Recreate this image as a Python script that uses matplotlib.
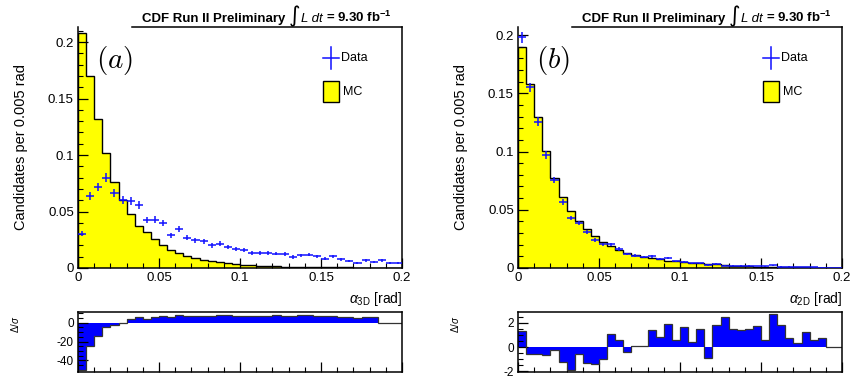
import numpy as np
import matplotlib.pyplot as plt
from matplotlib.ticker import MultipleLocator
from matplotlib.patches import Rectangle
from matplotlib.lines import Line2D
from matplotlib.offsetbox import TextArea, HPacker, AnchoredOffsetbox

plt.rcParams['font.family'] = ['Liberation Sans', 'DejaVu Sans']
plt.rcParams['mathtext.fontset'] = 'custom'
plt.rcParams['mathtext.rm'] = 'Liberation Sans'
plt.rcParams['mathtext.it'] = 'Liberation Sans:italic'
plt.rcParams['mathtext.bf'] = 'Liberation Sans:bold'

# 40 bins of 0.005 rad between 0 and 0.2
edges = np.linspace(0.0, 0.2, 41)
centers = 0.5 * (edges[1:] + edges[:-1])

# (a) alpha_3D
mc_3d = [0.208, 0.170, 0.132, 0.102, 0.076, 0.060, 0.048, 0.037, 0.032, 0.026,
         0.020, 0.016, 0.013, 0.011, 0.009, 0.0074, 0.006, 0.005, 0.0041, 0.0035,
         0.003, 0.0024, 0.002, 0.0018, 0.0015, 0.0013, 0.0011, 0.0010, 0.0009, 0.0008,
         0.0007, 0.0006, 0.0005, 0.0005, 0.0004, 0.0004, 0.0003, 0.0003, 0.0003, 0.0003]
data_3d = [0.0305, 0.0636, 0.0719, 0.0799, 0.0666, 0.060, 0.0592, 0.0556, 0.0423, 0.0429,
           0.040, 0.029, 0.0343, 0.0269, 0.0246, 0.0237, 0.020, 0.0216, 0.0186, 0.0166,
           0.0157, 0.0133, 0.0133, 0.0133, 0.0127, 0.0124, 0.0098, 0.0112, 0.0118, 0.0104,
           0.0083, 0.0104, 0.0077, 0.0062, 0.0047, 0.0068, 0.0056, 0.0068, 0.0047, 0.0047]
err_3d = [0.0025, 0.0035, 0.0037, 0.0039, 0.0036, 0.0034, 0.0034, 0.0033, 0.0029, 0.0029,
          0.0028, 0.0024, 0.0026, 0.0023, 0.0022, 0.0021, 0.0020, 0.0020, 0.0019, 0.0018,
          0.0017, 0.0016, 0.0016, 0.0016, 0.0016, 0.0015, 0.0014, 0.0014, 0.0015, 0.0014,
          0.0013, 0.0014, 0.0012, 0.0011, 0.0010, 0.0011, 0.0010, 0.0011, 0.0010, 0.0010]
pull_3d = [-50.5, -24.4, -14.2, -5.0, -2.5, -0.2, 3.5, 5.7, 3.9, 6.4,
           7.0, 5.7, 8.5, 7.0, 7.0, 7.0, 7.4, 8.1, 7.8, 7.0,
           7.0, 7.0, 7.4, 7.4, 7.8, 7.0, 7.0, 7.8, 8.1, 7.0,
           6.7, 7.4, 6.4, 5.7, 5.3, 6.0, 5.7, 0.0, 0.0, 0.0]

# (b) alpha_2D
mc_2d = [0.1894, 0.158, 0.1294, 0.1006, 0.0769, 0.0606, 0.0491, 0.0406, 0.0334, 0.0277,
         0.0226, 0.0191, 0.0157, 0.0129, 0.0111, 0.0097, 0.0083, 0.0074, 0.0063, 0.0057,
         0.0051, 0.0046, 0.004, 0.0037, 0.0034, 0.0026, 0.002, 0.0017, 0.0014, 0.0011,
         0.0010, 0.0009, 0.0008, 0.0007, 0.0006, 0.0005, 0.0004, 0.0003, 0.0002, 0.0002]
data_2d = [0.198, 0.1551, 0.1257, 0.0969, 0.0757, 0.0566, 0.0429, 0.0386, 0.0306, 0.0243,
           0.0203, 0.0203, 0.0163, 0.012, 0.0106, 0.0097, 0.010, 0.0077, 0.0083, 0.0057,
           0.0054, 0.004, 0.004, 0.0026, 0.0034, 0.002, 0.002, 0.002, 0.002, 0.0017,
           0.0014, 0.0023, 0.0011, 0.0011, 0.0009, 0.0009, 0.0006, 0.0003, 0.0, 0.0]
err_2d = [0.0045, 0.0040, 0.0036, 0.0032, 0.0028, 0.0024, 0.0021, 0.0020, 0.0018, 0.0016,
          0.0014, 0.0014, 0.0013, 0.0011, 0.0010, 0.0010, 0.0010, 0.0009, 0.0009, 0.0007,
          0.0007, 0.0006, 0.0006, 0.0005, 0.0006, 0.0004, 0.0004, 0.0004, 0.0004, 0.0004,
          0.0004, 0.0005, 0.0003, 0.0003, 0.0003, 0.0003, 0.0002, 0.0002, 0.0, 0.0]
pull_2d = [1.35, -0.59, -0.54, -0.68, -0.23, -1.24, -1.89, -0.56, -1.27, -1.41,
           -0.99, 1.07, 0.56, -0.42, 0.08, 0.08, 1.41, 0.82, 1.94, 0.56,
           1.66, 0.39, 1.46, -0.87, 1.80, 2.48, 1.52, 1.38, 1.52, 1.72,
           0.59, 2.70, 1.86, 0.73, 0.37, 1.24, 0.56, 0.73, 0.0, 0.0]

panels = [
    dict(mc=mc_3d, data=data_3d, err=err_3d, pull=pull_3d, tag=r'$(a)$',
         xlabel=r'$\alpha_{\rm 3D}$ [rad]', left=78, ymax=0.2133,
         rlim=(-52.4, 11.4), rmajor=20, rminor=5, rticks=[-40, -20, 0]),
    dict(mc=mc_2d, data=data_2d, err=err_2d, pull=pull_2d, tag=r'$(b)$',
         xlabel=r'$\alpha_{\rm 2D}$ [rad]', left=518, ymax=0.2069,
         rlim=(-2.05, 2.9), rmajor=2, rminor=0.5, rticks=[-2, 0, 2]),
]

W, H = 852, 379
fig = plt.figure(figsize=(W / 100, H / 100), dpi=100)


def root_ticks(ax, xmajor, xminor, ymajor, yminor):
    ax.xaxis.set_major_locator(MultipleLocator(xmajor))
    ax.xaxis.set_minor_locator(MultipleLocator(xminor))
    ax.yaxis.set_major_locator(MultipleLocator(ymajor))
    ax.yaxis.set_minor_locator(MultipleLocator(yminor))
    ax.tick_params(which='major', direction='in', length=7, width=0.9,
                   labelsize=9.5, top=False, right=False, pad=3)
    ax.tick_params(which='minor', direction='in', length=3.5, width=0.8,
                   top=False, right=False)
    for sp in ax.spines.values():
        sp.set_linewidth(1.1)


def fmt(v, pos):
    if abs(v) < 1e-9:
        return '0'
    return ('%g' % v)


def cdf_banner(ax):
    bold = dict(fontsize=9.5, fontweight='bold', color='black')
    parts = [
        TextArea('CDF Run II Preliminary ', textprops=bold),
        TextArea('\u222b', textprops=dict(fontsize=16, family='DejaVu Sans')),
        TextArea('L', textprops=dict(fontsize=9.5, style='italic')),
        TextArea(' dt ', textprops=dict(fontsize=9.5, style='italic')),
        TextArea(r'= 9.30 fb$^{\mathbf{-1}}$', textprops=bold),
    ]
    box = HPacker(children=parts, align='baseline', pad=0, sep=0)
    anchored = AnchoredOffsetbox(loc='lower right', child=box, pad=0,
                                 borderpad=0, frameon=False,
                                 bbox_to_anchor=(0.97, 1.0),
                                 bbox_transform=ax.transAxes)
    ax.add_artist(anchored)


for p in panels:
    x0 = p['left'] / W
    w = 324 / W
    ax = fig.add_axes([x0, (H - 268) / H, w, 241 / H])
    ax.stairs(p['mc'], edges, fill=True, color='#ffff00', zorder=1)
    ax.stairs(p['mc'], edges, color='black', lw=1.0, baseline=0, zorder=2)
    ax.errorbar(centers, p['data'], yerr=p['err'], xerr=0.0025, fmt='none',
                ecolor='#1010ff', elinewidth=1.1, zorder=3)
    ax.set_xlim(0, 0.2)
    ax.set_ylim(0, p['ymax'])
    root_ticks(ax, 0.05, 0.01, 0.05, 0.01)
    ax.xaxis.set_major_formatter(plt.FuncFormatter(fmt))
    ax.yaxis.set_major_formatter(plt.FuncFormatter(fmt))
    ax.spines['top'].set_bounds(0.0335, 0.2)
    ax.set_ylabel('Candidates per 0.005 rad', fontsize=10.5)
    ax.yaxis.set_label_coords(-0.155, 0.5)
    ax.set_xlabel(p['xlabel'], fontsize=10, loc='right', labelpad=4)
    ax.text(0.055, 0.86, p['tag'], transform=ax.transAxes, fontsize=21,
            math_fontfamily='cm', ha='left', va='center')
    cdf_banner(ax)

    # legend drawn by hand in axes coordinates
    lx, ly = 0.755, 0.87
    ax.add_line(Line2D([lx, lx + 0.05], [ly, ly], transform=ax.transAxes,
                       color='#1010ff', lw=1.1))
    ax.add_line(Line2D([lx + 0.025, lx + 0.025], [ly - 0.045, ly + 0.045],
                       transform=ax.transAxes, color='#1010ff', lw=1.1))
    ax.text(lx + 0.058, ly, 'Data', transform=ax.transAxes, fontsize=9,
            va='center', ha='left')
    ax.add_patch(Rectangle((lx, 0.69), 0.05, 0.085, transform=ax.transAxes,
                           facecolor='#ffff00', edgecolor='black', lw=1.0))
    ax.text(lx + 0.062, 0.73, 'MC', transform=ax.transAxes, fontsize=9,
            va='center', ha='left')

    # pull panel
    rx = fig.add_axes([x0, (H - 372) / H, w, 60 / H])
    rx.stairs(p['pull'], edges, fill=True, color='#0000ff', zorder=1)
    rx.stairs(p['pull'], edges, color='#333333', lw=0.9, baseline=None, zorder=2)
    rx.set_xlim(0, 0.2)
    rx.set_ylim(*p['rlim'])
    root_ticks(rx, 0.05, 0.01, p['rmajor'], p['rminor'])
    rx.set_yticks(p['rticks'])
    rx.yaxis.set_major_formatter(plt.FuncFormatter(fmt))
    rx.tick_params(labelbottom=False, labelsize=8.5)
    rx.set_ylabel(r'$\Delta/\sigma$', fontsize=7)
    rx.yaxis.set_label_coords(-0.175, 0.8)

fig.savefig('out.png', dpi=100)
